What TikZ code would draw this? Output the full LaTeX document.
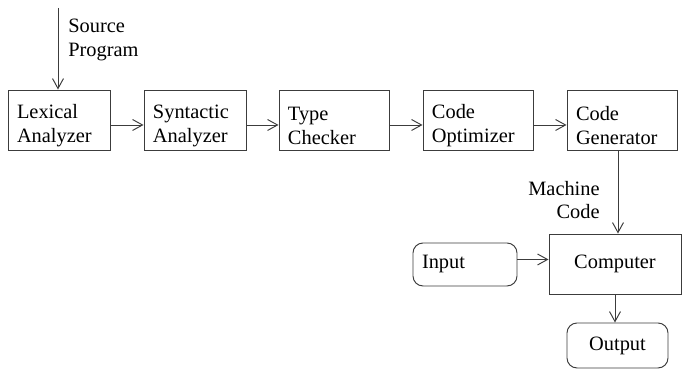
\documentclass[tikz,border=0pt]{standalone}
\usepackage{fontspec}
\setmainfont{Liberation Serif}
\usepackage{tikz}
\usetikzlibrary{arrows.meta,positioning}
\usepackage{xcolor}
\definecolor{LineGray}{RGB}{60,60,60}

\begin{document}
\begin{tikzpicture}[
  font=\fontsize{11.6}{13.6}\selectfont,
  box/.style={draw=LineGray, line width=0.55pt, inner xsep=0.18cm, inner ysep=0pt, minimum height=1.2cm, align=left},
  twoline/.style={box, execute at begin node={\rule{0pt}{0.5cm}}},
  roundbox/.style={box, rounded corners=0.2cm},
  flow/.style={draw=LineGray, line width=0.55pt, -{Straight Barb[length=0.2cm,width=0.22cm]}}
]
\useasboundingbox (0,0) rectangle (13.64,7.4);
\node[twoline, text width=1.68cm] (lex) at (1.18,5) {Lexical\\Analyzer};
\node[twoline, text width=1.68cm] (syn) at (3.9,5) {Syntactic\\Analyzer};
\node[twoline, text width=1.84cm] (type) at (6.68,5) {Type\\Checker};
\node[twoline, text width=1.84cm] (opt) at (9.56,5) {Code\\Optimizer};
\node[twoline, text width=1.84cm] (gen) at (12.44,5) {Code\\Generator};
\node[box, minimum width=2.64cm] (comp) at (12.3,2.12) {Computer};
\node[roundbox, text width=1.72cm, minimum height=0.86cm] (in) at (9.3,2.11) {Input};
\node[roundbox, minimum width=2.02cm, minimum height=0.9cm, align=center] (out) at (12.35,0.49) {Output};
\coordinate (src) at (1.16,7.24);
\node[anchor=west, inner sep=0pt, align=left] (srclabel) at (1.36,6.6) {Source\\Program};
\node[anchor=east, inner sep=0pt, align=right] (mclabel) at (12.0,3.4) {Machine\\Code};
\draw[flow] (src) -- (src |- lex.north);
\draw[flow] ([yshift=-0.1cm]lex.east) -- ([yshift=-0.1cm]syn.west);
\draw[flow] ([yshift=-0.1cm]syn.east) -- ([yshift=-0.1cm]type.west);
\draw[flow] ([yshift=-0.1cm]type.east) -- ([yshift=-0.1cm]opt.west);
\draw[flow] ([yshift=-0.1cm]opt.east) -- ([yshift=-0.1cm]gen.west);
\draw[flow] ([xshift=-0.08cm]gen.south) -- ([xshift=-0.08cm]gen.south |- comp.north);
\draw[flow] ([yshift=0.1cm]in.east) -- ([yshift=0.1cm]in.east -| comp.west);
\draw[flow] (comp.south) -- (comp.south |- out.north);
\end{tikzpicture}
\end{document}
